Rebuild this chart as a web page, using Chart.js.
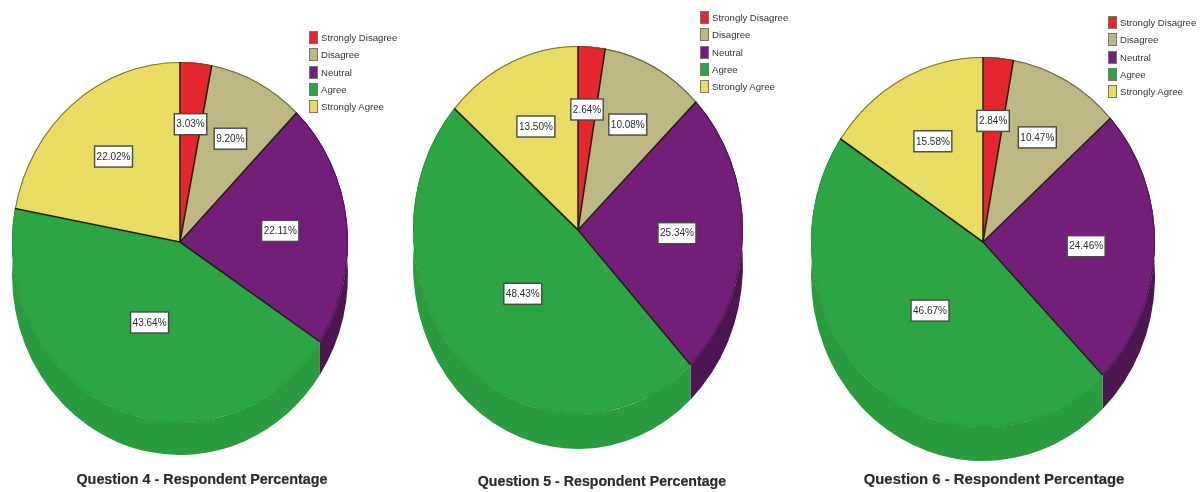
<!DOCTYPE html>
<html>
<head>
<meta charset="utf-8">
<title>Respondent Percentage</title>
<script src="https://cdn.jsdelivr.net/npm/chart.js@4"></script>
<style>
html,body{margin:0;padding:0;background:#fff;overflow:hidden}
#page{position:relative;width:1204px;height:492px;font-family:"Liberation Sans",Arial,sans-serif;filter:blur(.4px)}
canvas{position:absolute;left:0;top:0}
.caption{position:absolute;font-weight:bold;color:#2b2b2b;white-space:nowrap;transform:translateX(-50%);-webkit-text-stroke:.2px #2b2b2b}
.legend{position:absolute}
.legend div{position:absolute;left:0;height:17px;line-height:17px;font-size:9.6px;color:#33333d;white-space:nowrap;padding-left:12px}
.legend i{position:absolute;left:0;top:2px;width:9px;height:13px;border:1px solid #77776a;box-sizing:border-box}
</style>
</head>
<body>
<div id="page"></div>
<script>
const categories=["Strongly Disagree","Disagree","Neutral","Agree","Strongly Agree"]

const q4Values=[3.03,9.20,22.11,43.64,22.02]
const q5Values=[2.64,10.08,25.34,48.43,13.50]
const q6Values=[2.84,10.47,24.46,46.67,15.58]

const sliceColors=["#e5262e","#bdb883","#731f7a","#2ca544","#e8dc62"]
const wallColors=["#a81c22","#8f8b62","#4e1553","#289c3f","#b0a74a"]
const rimColors=["#6b4a20","#6f6a3c","#4a1a50","#269a3d","#7d7430"]

// where each slice label sits, as a share of the radius
const labelRadius=[0.66,0.65,0.60,0.48,0.62]

const pies=[
{title:"Question 4 - Respondent Percentage",values:q4Values,cx:180,cy:242,rx:168,ry:180,depth:33,titleX:202,titleY:471,titleSize:14.35,legendX:309,legendY:29},
{title:"Question 5 - Respondent Percentage",values:q5Values,cx:578,cy:230,rx:165,ry:184,depth:35,titleX:602,titleY:473,titleSize:14.2,legendX:700,legendY:9},
{title:"Question 6 - Respondent Percentage",values:q6Values,cx:983,cy:242,rx:172,ry:185,depth:34,titleX:994,titleY:471,titleSize:14.9,legendX:1108,legendY:14}
]

const page=document.getElementById("page")

// flattens the round pie into an ellipse and gives it the raised side
const tiltPlugin={
id:"tilt",
beforeDatasetsDraw(chart,args,opts){
let ctx=chart.ctx
let arcs=chart.getDatasetMeta(0).data
let first=arcs[0]
ctx.save()
ctx.translate(first.x,first.y)
ctx.scale(1,opts.k)
ctx.translate(-first.x,-first.y)
let drop=opts.depth/opts.k
arcs.forEach((arc,i)=>{
ctx.beginPath()
ctx.arc(arc.x,arc.y,arc.outerRadius,arc.startAngle,arc.endAngle)
ctx.arc(arc.x,arc.y+drop,arc.outerRadius,arc.endAngle,arc.startAngle,true)
ctx.closePath()
ctx.fillStyle=wallColors[i]
ctx.fill()
})
},
afterDatasetsDraw(chart,args,opts){
let ctx=chart.ctx
let arcs=chart.getDatasetMeta(0).data

// outer rim, then the dark lines between slices
arcs.forEach((arc,i)=>{
ctx.beginPath()
ctx.arc(arc.x,arc.y,arc.outerRadius-0.5,arc.startAngle,arc.endAngle)
ctx.strokeStyle=rimColors[i]
ctx.lineWidth=1
ctx.stroke()
})
arcs.forEach(arc=>{
ctx.beginPath()
ctx.moveTo(arc.x,arc.y)
ctx.lineTo(arc.x+Math.cos(arc.startAngle)*arc.outerRadius,arc.y+Math.sin(arc.startAngle)*arc.outerRadius)
ctx.strokeStyle="#1f1f14"
ctx.lineWidth=1.5
ctx.stroke()
})
ctx.restore()

// value labels
ctx.font="10px 'Liberation Sans', Arial, sans-serif"
ctx.textAlign="center"
ctx.textBaseline="middle"
arcs.forEach((arc,i)=>{
let mid=(arc.startAngle+arc.endAngle)/2
let r=arc.outerRadius*labelRadius[i]
let x=arc.x+Math.cos(mid)*r
let y=arc.y+Math.sin(mid)*r*opts.k
let text=chart.data.datasets[0].data[i].toFixed(2)+"%"
let w=ctx.measureText(text).width+4
ctx.fillStyle="#fff"
ctx.fillRect(x-w/2,y-10,w,21)
ctx.strokeStyle="#4a4a40"
ctx.lineWidth=1.4
ctx.strokeRect(x-w/2,y-10,w,21)
ctx.fillStyle="#2c2c38"
ctx.fillText(text,x,y+1)
})
}
}

pies.forEach(p=>{
let canvas=document.createElement("canvas")
canvas.width=1204
canvas.height=492
page.appendChild(canvas)

new Chart(canvas,{
type:"pie",
data:{
labels:categories,
datasets:[{
data:p.values,
backgroundColor:sliceColors,
borderWidth:0,
clip:false
}]
},
options:{
responsive:false,
animation:false,
events:[],
layout:{
padding:{left:p.cx-p.rx,right:1204-p.cx-p.rx,top:p.cy-p.rx,bottom:492-p.cy-p.rx}
},
plugins:{
legend:{display:false},
tooltip:{enabled:false},
tilt:{k:p.ry/p.rx,depth:p.depth}
}
},
plugins:[tiltPlugin]
})

let caption=document.createElement("div")
caption.className="caption"
caption.innerText=p.title
caption.style.left=p.titleX+"px"
caption.style.top=p.titleY+"px"
caption.style.fontSize=p.titleSize+"px"
page.appendChild(caption)

let legend=document.createElement("div")
legend.className="legend"
legend.style.left=p.legendX+"px"
legend.style.top=p.legendY+"px"
categories.forEach((name,i)=>{
let row=document.createElement("div")
row.style.top=(i*17.3)+"px"
row.innerText=name
let swatch=document.createElement("i")
swatch.style.background=sliceColors[i]
row.appendChild(swatch)
legend.appendChild(row)
})
page.appendChild(legend)
})
</script>
</body>
</html>
